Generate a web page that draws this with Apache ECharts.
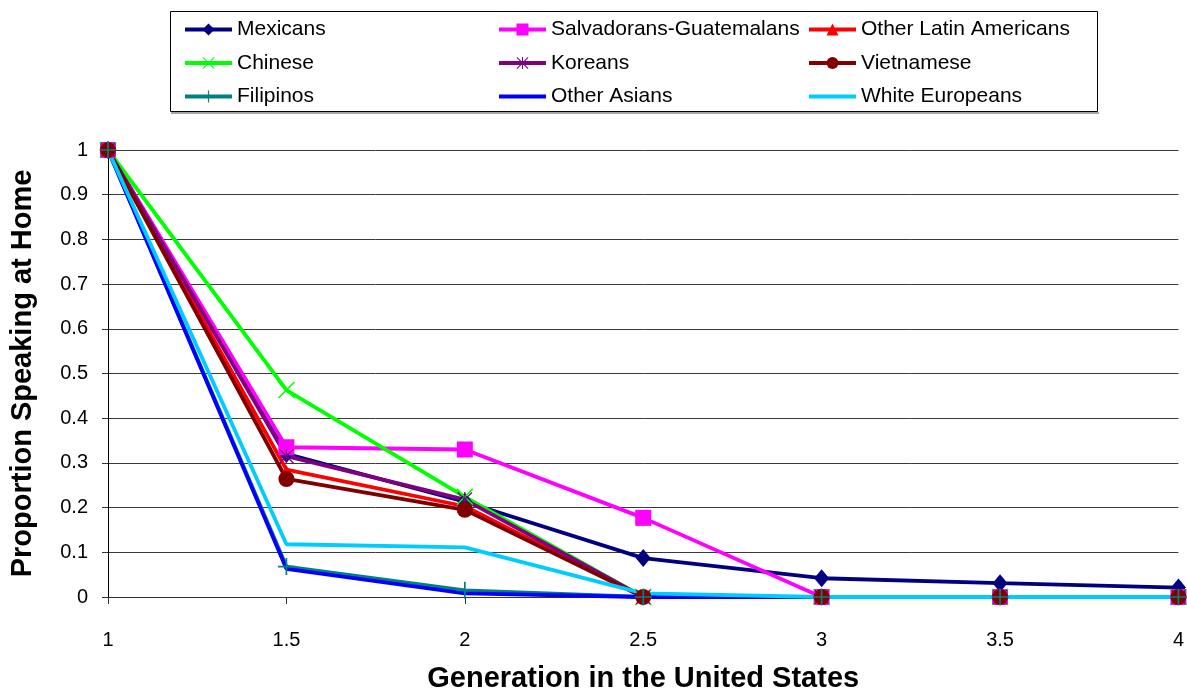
<!DOCTYPE html>
<html>
<head>
<meta charset="utf-8">
<script src="https://cdn.jsdelivr.net/npm/echarts@6/dist/echarts.min.js"></script>
<style>
  html, body { margin: 0; padding: 0; background: #fff; }
  #chart { width: 1187px; height: 698px; }
</style>
</head>
<body>
<div id="chart"></div>
<script>
// Generations (x values) and the share speaking the origin language at home
const generations = [1, 1.5, 2, 2.5, 3, 3.5, 4];

const mexicans       = [1, 0.320, 0.213, 0.087, 0.042, 0.031, 0.021];
const salvadorans    = [1, 0.335, 0.330, 0.177, 0, 0, 0];
const otherLatin     = [1, 0.285, 0.203, 0, 0, 0, 0];
const chinese        = [1, 0.463, 0.224, 0, 0, 0, 0];
const koreans        = [1, 0.315, 0.218, 0, 0, 0, 0];
const vietnamese     = [1, 0.264, 0.195, 0, 0, 0, 0];
const filipinos      = [1, 0.068, 0.015, 0, 0, 0, 0];
const otherAsians    = [1, 0.063, 0.008, 0, 0, 0, 0];
const whiteEuropeans = [1, 0.118, 0.111, 0.008, 0, 0, 0];

const yTicks = [0, 0.1, 0.2, 0.3, 0.4, 0.5, 0.6, 0.7, 0.8, 0.9, 1];

const FONT = "'Liberation Sans', Arial, sans-serif";

// Thin-stroke marker shapes built as filled outlines
const PLUS = 'path://M4.5,0h1v10h-1z M0,4.5h10v1h-10z';
const CROSS = 'path://M0,0.6L0.6,0L10,9.4L9.4,10Z M9.4,0L10,0.6L0.6,10L0,9.4Z';
const STAR = 'path://M0,0.6L0.6,0L10,9.4L9.4,10Z M9.4,0L10,0.6L0.6,10L0,9.4Z M4.6,0h0.8v10h-0.8z';

function pairs(values) {
  return generations.map((g, i) => [g, values[i]]);
}

function makeSeries(name, values, color, symbol, size) {
  return {
    name: name,
    type: 'line',
    data: pairs(values),
    clip: false,
    symbol: symbol,
    symbolSize: size,
    showSymbol: symbol !== 'none',
    lineStyle: { color: color, width: 3.8 },
    itemStyle: { color: color, borderWidth: 0 },
    emphasis: { disabled: true },
    animation: false
  };
}

const series = [
  makeSeries('Mexicans', mexicans, '#000080', 'diamond', [15, 18]),
  makeSeries('Salvadorans-Guatemalans', salvadorans, '#FF00FF', 'rect', 16),
  makeSeries('Other Latin Americans', otherLatin, '#FF0000', 'triangle', 9),
  makeSeries('Chinese', chinese, '#00FF00', CROSS, 17),
  makeSeries('Koreans', koreans, '#800080', STAR, 15),
  makeSeries('Vietnamese', vietnamese, '#800000', 'circle', 16),
  makeSeries('Filipinos', filipinos, '#008080', PLUS, 17),
  makeSeries('Other Asians', otherAsians, '#0000FF', 'none', 0),
  makeSeries('White Europeans', whiteEuropeans, '#00CCFF', 'none', 0)
];

// Series drawn as plain lines get a legend entry without a marker
const lineOnly = ['Other Asians', 'White Europeans'];

function legendColumn(left, names) {
  return {
    orient: 'vertical',
    left: left,
    top: 19,
    padding: 0,
    data: names.map(n => lineOnly.includes(n)
      ? { name: n, itemStyle: { color: 'rgba(0,0,0,0)' } }
      : { name: n }),
    selectedMode: false,
    itemWidth: 47,
    itemHeight: 15,
    itemGap: 12.5,
    lineStyle: { width: 4 },
    textStyle: { fontFamily: FONT, fontSize: 21, color: '#000', lineHeight: 20 }
  };
}

const chart = echarts.init(document.getElementById('chart'), null, { renderer: 'canvas' });

chart.setOption({
  backgroundColor: '#fff',
  animation: false,
  grid: { left: 108, right: 6, top: 150, bottom: 97, containLabel: false },
  legend: [
    legendColumn(183, ['Mexicans', 'Chinese', 'Filipinos']),
    legendColumn(497, ['Salvadorans-Guatemalans', 'Koreans', 'Other Asians']),
    legendColumn(807, ['Other Latin Americans', 'Vietnamese', 'White Europeans'])
  ],
  graphic: [
    {
      type: 'rect',
      shape: { x: 170.5, y: 11.5, width: 927, height: 100 },
      style: { fill: 'none', stroke: '#000', lineWidth: 1 },
      silent: true
    },
    {
      type: 'line',
      shape: { x1: 171, y1: 113, x2: 1099, y2: 113 },
      style: { stroke: '#888', lineWidth: 1.5 },
      silent: true
    }
  ],
  xAxis: {
    type: 'value',
    min: 1,
    max: 4,
    interval: 0.5,
    name: 'Generation in the United States',
    nameLocation: 'middle',
    nameGap: 67,
    nameTextStyle: { fontFamily: FONT, fontSize: 29, fontWeight: 'bold', color: '#000' },
    axisLine: { show: true, onZero: false, lineStyle: { color: '#333', width: 1 } },
    axisTick: { show: true, length: 7, lineStyle: { color: '#333' } },
    axisLabel: { fontFamily: FONT, fontSize: 20, color: '#000', margin: 33 },
    splitLine: { show: false }
  },
  yAxis: {
    type: 'value',
    min: 0,
    max: 1,
    interval: 0.1,
    name: 'Proportion Speaking at Home',
    nameLocation: 'middle',
    nameGap: 71,
    nameTextStyle: { fontFamily: FONT, fontSize: 29, fontWeight: 'bold', color: '#000' },
    axisLine: { show: true, lineStyle: { color: '#000', width: 1 } },
    axisTick: { show: true, length: 6, lineStyle: { color: '#333' } },
    axisLabel: {
      fontFamily: FONT, fontSize: 20, color: '#000', margin: 20,
      formatter: function (v) {
        const t = yTicks.find(x => Math.abs(x - v) < 1e-9);
        return String(t !== undefined ? t : v);
      }
    },
    splitLine: { show: true, lineStyle: { color: '#3a3a3a', width: 1 } }
  },
  series: series
});
</script>
</body>
</html>
